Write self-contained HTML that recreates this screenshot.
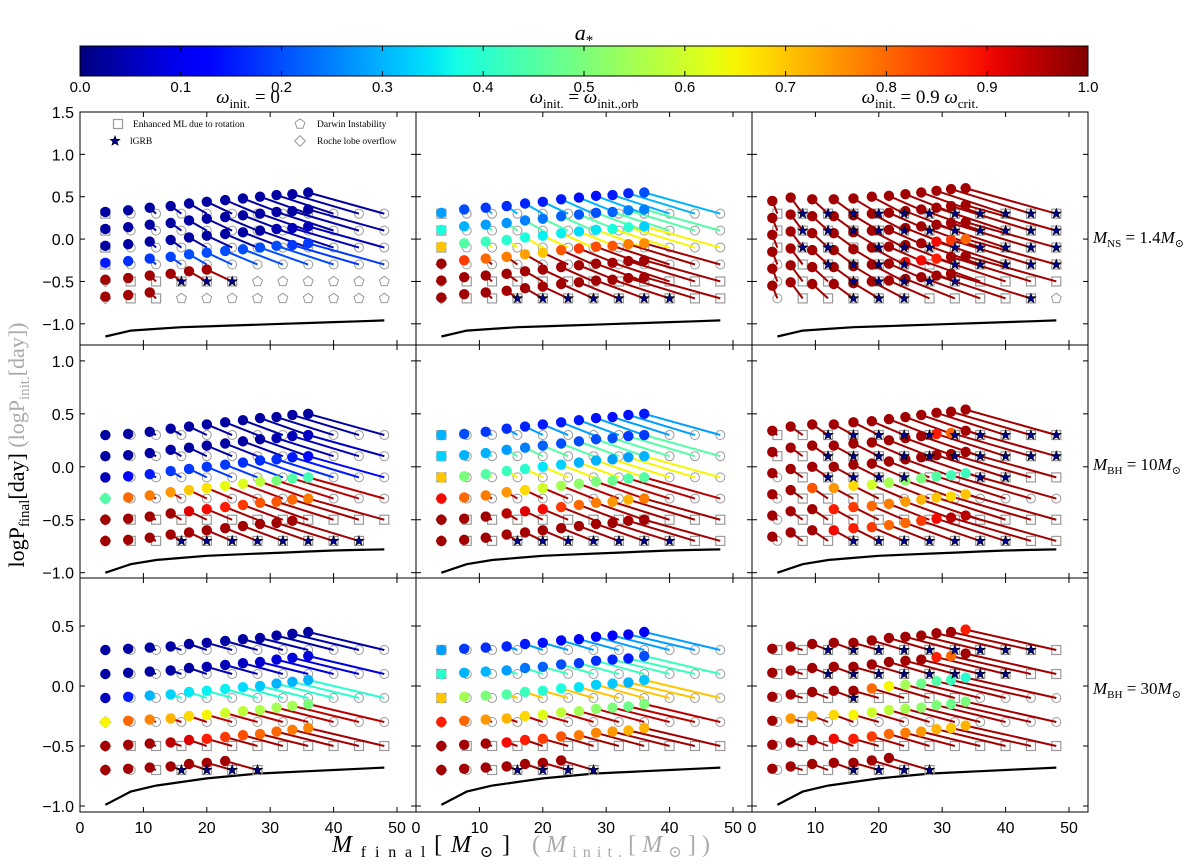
<!DOCTYPE html>
<html><head><meta charset="utf-8"><style>
html,body{margin:0;padding:0;background:#fff;}
svg{display:block;}
.tk{font-family:"Liberation Sans",sans-serif;font-size:15px;fill:#000;}
.sf{font-family:"Liberation Serif","DejaVu Serif",serif;}
</style></head><body>
<svg id="fig" width="1200" height="864" viewBox="0 0 1200 864" xmlns="http://www.w3.org/2000/svg">
<defs><linearGradient id="jetgrad" x1="0" x2="1" y1="0" y2="0"></linearGradient></defs>
<g id="cbar"></g>
<text class="sf" x="584" y="40" font-size="22" font-style="italic" text-anchor="middle">a<tspan font-size="15" dy="5" font-style="normal">*</tspan></text>
<text class="sf" x="248" y="103" font-size="19" text-anchor="middle"><tspan font-style="italic">ω</tspan><tspan font-size="13" dy="5">init.</tspan><tspan dy="-5"> = 0</tspan></text>
<text class="sf" x="584" y="103" font-size="19" text-anchor="middle"><tspan font-style="italic">ω</tspan><tspan font-size="13" dy="5">init.</tspan><tspan dy="-5"> =  </tspan><tspan font-style="italic">ω</tspan><tspan font-size="13" dy="5">init.,orb</tspan></text>
<text class="sf" x="920" y="103" font-size="19" text-anchor="middle"><tspan font-style="italic">ω</tspan><tspan font-size="13" dy="5">init.</tspan><tspan dy="-5"> = 0.9 </tspan><tspan font-style="italic">ω</tspan><tspan font-size="13" dy="5">crit.</tspan></text>
<text class="sf" x="1093" y="243" font-size="17"><tspan font-style="italic">M</tspan><tspan font-size="11" dy="4">NS</tspan><tspan dy="-4"> = 1.4</tspan><tspan font-style="italic">M</tspan><tspan font-size="11" dy="4">⊙</tspan></text>
<text class="sf" x="1093" y="470" font-size="17"><tspan font-style="italic">M</tspan><tspan font-size="11" dy="4">BH</tspan><tspan dy="-4"> = 10</tspan><tspan font-style="italic">M</tspan><tspan font-size="11" dy="4">⊙</tspan></text>
<text class="sf" x="1093" y="694" font-size="17"><tspan font-style="italic">M</tspan><tspan font-size="11" dy="4">BH</tspan><tspan dy="-4"> = 30</tspan><tspan font-style="italic">M</tspan><tspan font-size="11" dy="4">⊙</tspan></text>
<text class="sf" transform="translate(24,445) rotate(-90)" font-size="22" text-anchor="middle">logP<tspan font-size="15" dy="5">final</tspan><tspan dy="-5">[day]  </tspan><tspan fill="#aaa">(logP<tspan font-size="15" dy="5">init.</tspan><tspan dy="-5">[day])</tspan></tspan></text>
<text class="sf" x="332" y="852" font-size="24" textLength="178" lengthAdjust="spacing"><tspan font-style="italic">M</tspan><tspan font-size="16" dy="5">final</tspan><tspan dy="-5">[</tspan><tspan font-style="italic">M</tspan><tspan font-size="16" dy="5">⊙</tspan><tspan dy="-5">]</tspan></text>
<text class="sf" x="532" y="852" font-size="24" fill="#aaa" textLength="178" lengthAdjust="spacing">(<tspan font-style="italic">M</tspan><tspan font-size="16" dy="5">init.</tspan><tspan dy="-5">[</tspan><tspan font-style="italic">M</tspan><tspan font-size="16" dy="5">⊙</tspan><tspan dy="-5">])</tspan></text>
<g id="panels"></g>
<g id="legend"></g>
</svg>
<script>
// ---------- data ----------
const initMass=[4,8,12,16,20,24,28,32,36,40,44,48];
const initPeriod=[0.3,0.1,-0.1,-0.3,-0.5,-0.7];
const cbarTicks=["0.0","0.1","0.2","0.3","0.4","0.5","0.6","0.7","0.8","0.9","1.0"];
const finalMassCol12=[4,7.6,11,14.3,17.2,20,22.9,25.7,28.4,31,33.5,36];
const finalMassCol3=[3.2,6.1,9.5,12.9,16,18.9,21.6,24.2,26.7,29.1,31.4,33.7];
const boundaryNS=[-1.15,-1.08,-1.06,-1.04,-1.03,-1.02,-1.01,-1.0,-0.99,-0.98,-0.97,-0.96];
const boundaryBH10=[-1.0,-0.92,-0.88,-0.86,-0.84,-0.83,-0.82,-0.81,-0.8,-0.79,-0.785,-0.78];
const boundaryBH30=[-0.99,-0.88,-0.83,-0.8,-0.77,-0.75,-0.73,-0.72,-0.71,-0.7,-0.69,-0.68];
const periodShift_00=[0.02,0.04,0.07,0.09,0.12,0.14,0.16,0.18,0.2,0.22,0.23,0.25];
const periodShift_01=[0.01,0.05,0.07,0.09,0.12,0.14,0.17,0.19,0.21,0.22,0.24,0.25];
const periodShift_02=[0.15,0.19,0.17,0.17,0.18,0.2,0.21,0.23,0.25,0.27,0.29,0.3];
const periodShift_10=[0,0.01,0.03,0.06,0.08,0.1,0.12,0.14,0.16,0.17,0.19,0.2];
const periodShift_11=[0,0.01,0.03,0.06,0.08,0.1,0.12,0.14,0.16,0.17,0.19,0.2];
const periodShift_12=[0.04,0.08,0.1,0.1,0.12,0.13,0.15,0.17,0.19,0.21,0.22,0.24];
const periodShift_20=[0,0.01,0.02,0.03,0.05,0.06,0.075,0.09,0.1,0.12,0.135,0.15];
const periodShift_21=[0,0.01,0.02,0.03,0.05,0.06,0.08,0.09,0.11,0.12,0.13,0.15];
const periodShift_22=[0.01,0.03,0.05,0.06,0.06,0.08,0.1,0.11,0.12,0.14,0.15,0.17];
const N=null;
const spin_00=[[.03,.03,.03,.03,.03,.03,.03,.03,.03,.03,.03,.03],[.03,.03,.03,.03,.03,.03,.03,.03,.03,.03,.03,.03],[.03,.03,.03,.03,.03,.03,.03,.03,.03,.04,.05,.05],[.15,.17,.18,.19,.2,.2,.2,.2,.2,.2,.18,.18],[.97,.97,.97,.97,.97,.97,N,N,N,N,N,N],[.97,.97,.97,N,N,N,N,N,N,N,N,N]];
const spin_01=[[.28,.2,.18,.17,.16,.15,.15,.14,.14,.15,.16,.2],[.38,.3,.28,.27,.25,.24,.22,.21,.2,.22,.25,.25],[.7,.45,.42,.4,.38,.36,.36,.34,.35,.38,.4,.33],[.97,.85,.8,.78,.74,.7,.82,.85,.83,.82,.78,.76],[.97,.97,.97,.97,.97,.97,.97,.97,.97,.97,.97,.97],[.97,.97,.97,.97,.97,.97,.97,.97,.97,.97,.97,.97]];
const spin_02=[[.97,.97,.97,.97,.97,.97,.97,.97,.97,.97,.97,.97],[.97,.97,.97,.97,.97,.97,.97,.97,.97,.97,.97,.97],[.97,.97,.97,.97,.97,.97,.97,.97,.97,.97,.97,.97],[.97,.97,.97,.97,.97,.97,.97,.97,.97,.9,.85,.8],[.97,.97,.97,.97,.97,.97,.97,.9,.9,.88,.97,.97],[.97,.97,.97,.97,.97,.97,.97,.97,.97,.97,.97,N]];
const spin_10=[[.03,.03,.03,.03,.03,.03,.03,.03,.03,.03,.03,.03],[.03,.03,.03,.03,.03,.03,.03,.03,.03,.04,.05,.06],[.05,.12,.15,.18,.18,.18,.18,.17,.17,.17,.15,.13],[.45,.8,.78,.75,.7,.67,.63,.62,.58,.5,.45,.43],[.97,.97,.97,.97,.92,.9,.88,.85,.82,.82,.8,.78],[.97,.97,.97,.97,.97,.97,.97,.97,.97,.97,.97,N]];
const spin_11=[[.3,.2,.18,.17,.16,.15,.15,.15,.14,.14,.14,.15],[.33,.3,.3,.28,.25,.22,.2,.2,.2,.2,.18,.18],[.7,.5,.45,.42,.4,.35,.33,.3,.3,.28,.28,.3],[.9,.8,.78,.75,.68,.6,.55,.52,.5,.48,.45,.45],[.97,.97,.97,.95,.92,.9,.85,.8,.78,.75,.72,.78],[.97,.97,.97,.97,.97,.97,.97,.97,.97,.97,.97,.97]];
const spin_12=[[.97,.97,.97,.97,.97,.97,.97,.97,.97,.97,.97,.97],[.97,.97,.97,.97,.97,.97,.97,.97,.97,.88,.8,.97],[.97,.97,.97,.97,.97,.97,.97,.97,.97,.97,.97,.97],[.97,.97,.82,.75,.68,.6,.55,.52,.5,.45,.43,.42],[.97,.97,.97,.88,.85,.8,.78,.75,.72,.7,.68,.7],[.97,.97,.97,.9,.88,.85,.8,.8,.85,.9,.95,.95]];
const spin_20=[[.03,.03,.03,.03,.03,.03,.03,.03,.03,.03,.03,.03],[.03,.03,.03,.03,.03,.04,.05,.06,.07,.08,.08,.08],[.05,.15,.3,.33,.35,.36,.36,.34,.32,.3,.3,.3],[.65,.8,.77,.72,.68,.65,.6,.58,.56,.55,.55,.5],[.97,.97,.97,.95,.92,.88,.85,.83,.8,.8,.78,.77],[.97,.97,.97,.97,.97,.97,.97,N,N,N,N,N]];
const spin_21=[[.28,.18,.17,.16,.15,.14,.13,.12,.12,.11,.1,.1],[.4,.3,.3,.28,.24,.22,.2,.18,.17,.16,.15,.2],[.7,.55,.5,.45,.42,.4,.38,.35,.33,.32,.3,.32],[.88,.8,.75,.72,.68,.62,.58,.55,.52,.5,.48,.5],[.97,.97,.97,.9,.88,.85,.82,.78,.77,.75,.72,.72],[.97,.97,.97,.97,.97,.97,.97,N,N,N,N,N]];
const spin_22=[[.97,.97,.97,.97,.97,.97,.97,.97,.97,.97,.97,.88],[.97,.97,.97,.97,.97,.97,.97,.97,.97,.88,.8,.97],[.97,.97,.97,.97,.97,.8,.65,.55,.48,.45,.42,.4],[.97,.75,.72,.68,.65,.6,.58,.55,.52,.5,.48,.5],[.97,.97,.95,.9,.88,.85,.8,.78,.75,.72,.7,.72],[.97,.97,.97,.97,.97,.97,.97,N,N,N,N,N]];
const lineSpin_00=[N,N,N,N,.97,.97], lineSpin_01=[.3,.45,.65,.97,.97,.97], lineSpin_02=[.97,.97,.97,.97,.97,.97];
const lineSpin_10=[N,N,N,.95,.97,.97], lineSpin_11=[.28,.45,.65,.95,.97,.97], lineSpin_12=[.97,.97,.97,.97,.97,.97];
const lineSpin_20=[N,N,.4,.95,.97,.97], lineSpin_21=[.28,.42,.7,.95,.97,.97], lineSpin_22=[.97,.97,.97,.97,.97,.97];
const marker_00=["sccccccccccc","sccccccccccc","sccccccccccc","sccccccccccc","dssssspppppp","dssppppppppp"];
const marker_01=["sccccccccccc","sccccccccccc","sccccccccccc","dccccccccccc","dsssssssssss","dsssssssssss"];
const marker_02=["ssssssssssss","ssssssssssss","ssssssssssss","csssssssssss","csssssssssss","cssssssssssp"];
const marker_10=["cccccccccccc","cccccccccccc","cccccccccccc","dccccccccccc","dsssssssssss","dssssssssss-"];
const marker_11=["sccccccccccc","sccccccccccc","sccccccccccc","dccccccccccc","dsssssssssss","dsssssssssss"];
const marker_12=["ssssssssssss","ssssssssssss","csssssssssss","cssssccccccc","csssssssssss","csssssssssss"];
const marker_20=["cccccccccccc","cccccccccccc","cccccccccccc","dccccccccccc","dsssssssssss","dcsssss-----"];
const marker_21=["sccccccccccc","sccccccccccc","sccccccccccc","dccccccccccc","dsssssssssss","dcsssss-----"];
const marker_22=["ssssssssssss","ssssssssssss","cssssssscccc","cscccccccccc","csssssssssss","cssssss-----"];
const grb_00=["000000000000","000000000000","000000000000","000000000000","000111000000","000000000000"];
const grb_01=["000000000000","000000000000","000000000000","000000000000","000000000000","000111111100"];
const grb_02=["011111111111","011111111111","011011111111","001111011111","000111110000","000111000010"];
const grb_10=["000000000000","000000000000","000000000000","000000000000","000000000000","000111111110"];
const grb_11=["000000000000","000000000000","000000000000","000000000000","000000000000","000111111100"];
const grb_12=["001111111111","001111111111","001111001100","000000000000","000000000000","000111111100"];
const grb_20=["000000000000","000000000000","000000000000","000000000000","000000000000","000111100000"];
const grb_21=["000000000000","000000000000","000000000000","000000000000","000000000000","000111100000"];
const grb_22=["001111111110","001111111100","000100000000","000000000000","000000000000","000111100000"];
const xTicks=[0,10,20,30,40,50];
const yTicksNS=[-1.0,-0.5,0.0,0.5,1.0,1.5], yTicksBH10=[-1.0,-0.5,0.0,0.5,1.0], yTicksBH30=[-1.0,-0.5,0.0,0.5];

// ---------- helpers ----------
const NS='http://www.w3.org/2000/svg';
function el(tag,attrs,parent){const e=document.createElementNS(NS,tag);for(const k in attrs)e.setAttribute(k,attrs[k]);parent.appendChild(e);return e;}
function interp(x,pts){for(let i=0;i<pts.length-1;i++){const a=pts[i],b=pts[i+1];if(x>=a[0]&&x<=b[0]){return a[1]+(b[1]-a[1])*(x-a[0])/(b[0]-a[0]);}}return x<pts[0][0]?pts[0][1]:pts[pts.length-1][1];}
function jet(v){v=Math.max(0,Math.min(1,v));
 const r=interp(v,[[0,0],[0.35,0],[0.66,1],[0.89,1],[1,0.5]]);
 const g=interp(v,[[0,0],[0.125,0],[0.375,1],[0.64,1],[0.91,0],[1,0]]);
 const b=interp(v,[[0,0.5],[0.11,1],[0.34,1],[0.65,0],[1,0]]);
 return 'rgb('+Math.round(r*255)+','+Math.round(g*255)+','+Math.round(b*255)+')';}
const svg=document.getElementById('fig');

// ---------- colorbar ----------
const grad=document.getElementById('jetgrad');
for(let i=0;i<=40;i++){el('stop',{offset:(i/40),'stop-color':jet(i/40)},grad);}
const cb=document.getElementById('cbar');
const cbX0=80,cbX1=1088,cbY=46,cbH=30;
const cbRect=el('rect',{x:cbX0,y:cbY,width:cbX1-cbX0,height:cbH,fill:'url(#jetgrad)',stroke:'#000','stroke-width':1},cb);


cbarTicks.forEach((t,i)=>{
 const x=cbX0+(cbX1-cbX0)*parseFloat(t);
 el('line',{x1:x,x2:x,y1:cbY+cbH,y2:cbY+cbH-5,stroke:'#000'},cb);
 el('line',{x1:x,x2:x,y1:cbY,y2:cbY+5,stroke:'#000'},cb);
 const tx=el('text',{x:x,y:cbY+cbH+16,'text-anchor':'middle',class:'tk'},cb);
 tx.textContent=t;
 
 
});

// ---------- panels ----------
const colLeft=[80,416,752], colW=336;
const rowTop=[112,345,578], rowH=[233,233,234];
const rowRange=[[-1.25,1.5],[-1.05,1.15],[-1.05,0.9]];
const rowTicks=[yTicksNS,yTicksBH10,yTicksBH30];
const rowBoundary=[boundaryNS,boundaryBH10,boundaryBH30];
const xMax=53;
const P={
 '00':[spin_00,marker_00,grb_00,periodShift_00,lineSpin_00],'01':[spin_01,marker_01,grb_01,periodShift_01,lineSpin_01],'02':[spin_02,marker_02,grb_02,periodShift_02,lineSpin_02],
 '10':[spin_10,marker_10,grb_10,periodShift_10,lineSpin_10],'11':[spin_11,marker_11,grb_11,periodShift_11,lineSpin_11],'12':[spin_12,marker_12,grb_12,periodShift_12,lineSpin_12],
 '20':[spin_20,marker_20,grb_20,periodShift_20,lineSpin_20],'21':[spin_21,marker_21,grb_21,periodShift_21,lineSpin_21],'22':[spin_22,marker_22,grb_22,periodShift_22,lineSpin_22]};
const panelsG=document.getElementById('panels');
const GREY='#9a9a9a';

function markerShape(g,type,x,y,size){
 let e;
 if(type==='c'){e=el('circle',{cx:x,cy:y,r:size,fill:'none',stroke:GREY,'stroke-width':1},g);}
 else if(type==='s'){e=el('rect',{x:x-size,y:y-size,width:2*size,height:2*size,fill:'none',stroke:GREY,'stroke-width':1.2},g);}
 else if(type==='p'){let pts=[];for(let k=0;k<5;k++){const a=-Math.PI/2+k*2*Math.PI/5;pts.push((x+size*1.15*Math.cos(a)).toFixed(1)+','+(y+size*1.15*Math.sin(a)).toFixed(1));}
  e=el('polygon',{points:pts.join(' '),fill:'none',stroke:GREY,'stroke-width':1},g);}
 else if(type==='d'){const s=size*1.2;e=el('polygon',{points:`${x},${y-s} ${x+s},${y} ${x},${y+s} ${x-s},${y}`,fill:'none',stroke:GREY,'stroke-width':1},g);}
 return e;}
function starPath(x,y,R){const r=R*0.42;let d='';for(let k=0;k<10;k++){const a=-Math.PI/2+k*Math.PI/5;const rr=k%2?r:R;d+=(k?'L':'M')+(x+rr*Math.cos(a)).toFixed(1)+','+(y+rr*Math.sin(a)).toFixed(1);}return d+'Z';}

for(let r=0;r<3;r++){for(let c=0;c<3;c++){
 const [spin,mk,grb,dP,lineSpin]=P[''+r+c];
 const x0=colLeft[c], y0=rowTop[r], h=rowH[r], [ymin,ymax]=rowRange[r];
 const X=m=>x0+m*colW/xMax;
 const Y=p=>y0+(ymax-p)/(ymax-ymin)*h;
 const fm=c===2?finalMassCol3:finalMassCol12;
 const g=el('g',{},panelsG);
 
 
 const cid='clip'+r+c;
 const cp=el('clipPath',{id:cid},g);el('rect',{x:x0,y:y0,width:colW,height:h},cp);
 const inner=el('g',{'clip-path':'url(#'+cid+')'},g);
 const bd=rowBoundary[r].map((p,i)=>X(initMass[i]).toFixed(1)+','+Y(p).toFixed(1)).join(' ');
 const bl=el('polyline',{points:bd,fill:'none',stroke:'#000','stroke-width':2.2},inner);
 
 
 for(let i=0;i<6;i++)for(let j=0;j<12;j++){
  const t=mk[i][j]; if(t==='-')continue;
  const m=markerShape(inner,t,X(initMass[j]),Y(initPeriod[i]),4.5);
  
  
 }
 for(let i=0;i<6;i++)for(let j=0;j<12;j++){
  const s=spin[i][j]; if(s===null)continue;
  const fx=X(fm[j]), fy=Y(initPeriod[i]+dP[j]);
  const ix=X(initMass[j]), iy=Y(initPeriod[i]);
  const ls=lineSpin[i]===null?s:lineSpin[i];
  const ln=el('line',{x1:fx,y1:fy,x2:ix,y2:iy,stroke:jet(ls),'stroke-width':2},inner);
  
  
 }
 for(let i=0;i<6;i++)for(let j=0;j<12;j++){
  const s=spin[i][j]; if(s===null)continue;
  const d=el('circle',{cx:X(fm[j]),cy:Y(initPeriod[i]+dP[j]),r:5.2,fill:jet(s)},inner);
  
  
 }
 for(let i=0;i<6;i++)for(let j=0;j<12;j++){
  if(grb[i][j]!=='1')continue;
  const st=el('path',{d:starPath(X(initMass[j]),Y(initPeriod[i]),5.2),fill:'#00008b',stroke:'#000','stroke-width':0.6},inner);
  
  
 }
 const fr=el('rect',{x:x0,y:y0,width:colW,height:h,fill:'none',stroke:'#000','stroke-width':1},g);
 
 
 xTicks.forEach(t=>{const x=X(t);
  el('line',{x1:x,x2:x,y1:y0+h,y2:y0+h-5,stroke:'#000'},g);
  el('line',{x1:x,x2:x,y1:y0,y2:y0+5,stroke:'#000'},g);
  if(r===2){const tx=el('text',{x:x,y:y0+h+21,'text-anchor':'middle',class:'tk',style:'font-size:16px'},g);tx.textContent=t;
   
   }
 });
 rowTicks[r].forEach(t=>{const y=Y(t);
  el('line',{x1:x0,x2:x0+5,y1:y,y2:y,stroke:'#000'},g);
  el('line',{x1:x0+colW,x2:x0+colW-5,y1:y,y2:y,stroke:'#000'},g);
  if(c===0){const tx=el('text',{x:x0-6,y:y+6,'text-anchor':'end',class:'tk',style:'font-size:16px'},g);tx.textContent=(t<0?'\u2212':'')+Math.abs(t).toFixed(1);
   
   }
 });
}}

// ---------- legend ----------
const lg=document.getElementById('legend');
const ls1=markerShape(lg,'s',118,124,4.5);


const ls2=el('path',{d:starPath(115,141,5.2),fill:'#00008b',stroke:'#000','stroke-width':0.6},lg);


const ls3=markerShape(lg,'p',300,124,4.5);


const ls4=markerShape(lg,'d',300,141,4.5);


[['Enhanced ML due to rotation',133,127],['lGRB',130,144],['Darwin Instability',317,127],['Roche lobe overflow',317,144]].forEach(a=>{
 const t=el('text',{x:a[1],y:a[2],class:'sf','font-size':'9.5'},lg);t.textContent=a[0];
 
 
});
</script>
</body></html>
